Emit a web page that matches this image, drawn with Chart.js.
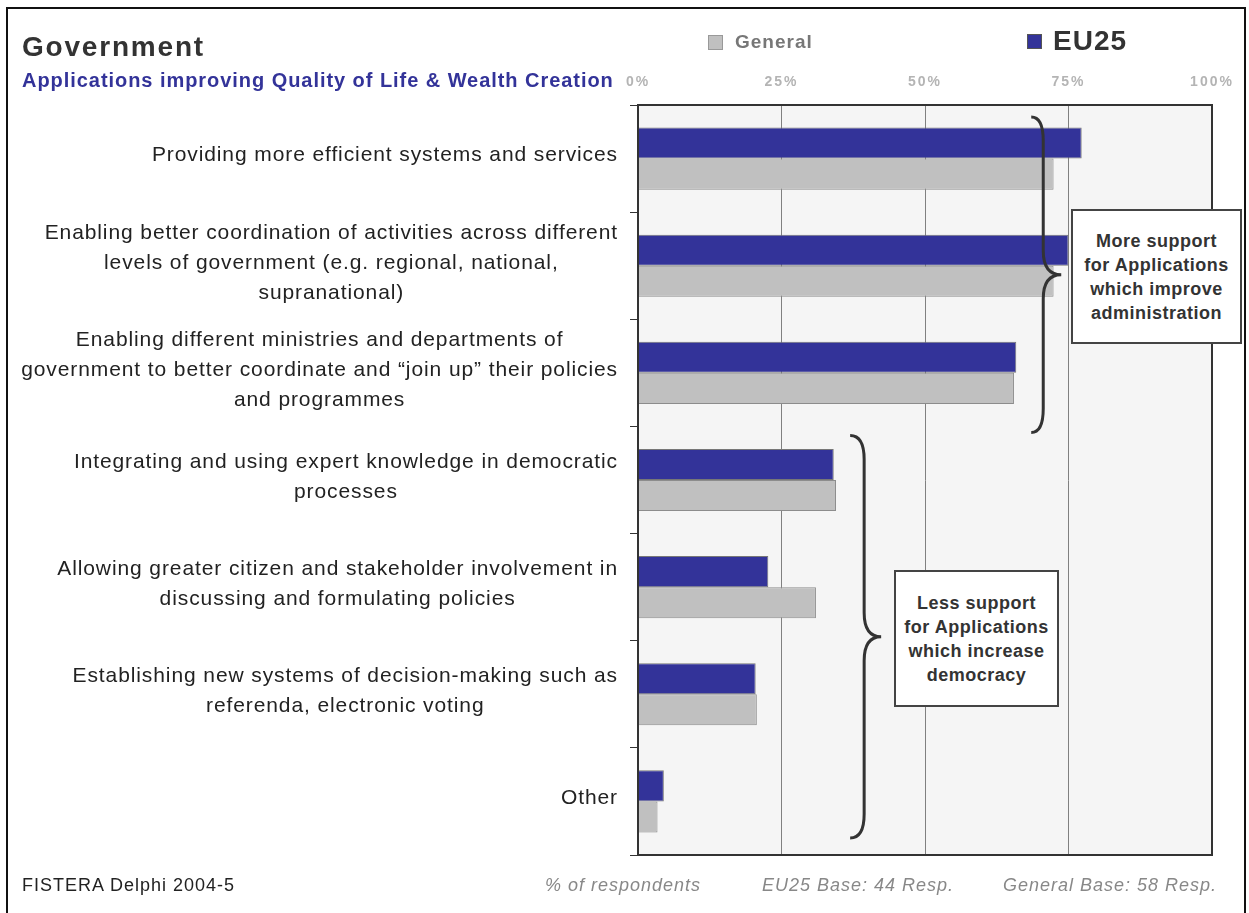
<!DOCTYPE html>
<html lang="en">
<head>
  <meta charset="UTF-8" />
  <title>Government - Applications improving Quality of Life &amp; Wealth Creation</title>
  <script src="https://cdn.jsdelivr.net/npm/chart.js"></script>
  <style>
    body { margin: 0; background: #fff; font-family: "Liberation Sans", Arial, sans-serif; }
    #wrap { position: relative; width: 1249px; height: 913px; overflow: hidden; }
    #chart { position: absolute; left: 0; top: 0; }
    #frame { position: absolute; left: 6px; top: 7px; width: 1240px; height: 930px; border: 2px solid #111; box-sizing: border-box; }
    .abs { position: absolute; white-space: nowrap; }
    #title { left: 22px; top: 31px; font-size: 28px; font-weight: bold; color: #333; letter-spacing: 1.8px; }
    #subtitle { left: 22px; top: 69px; font-size: 20px; font-weight: bold; color: #333399; letter-spacing: 0.95px; }
    .lg-box { position: absolute; box-sizing: border-box; }
    .note { position: absolute; box-sizing: border-box; background: #fff; border: 2px solid #444;
            font-weight: bold; font-size: 18px; letter-spacing: 0.5px; color: #333; text-align: center; line-height: 24px;
            display: flex; align-items: center; justify-content: center; }
    .foot { position: absolute; top: 875px; font-size: 18px; letter-spacing: 1px; white-space: nowrap; }
    .foot.meta { color: #888; font-style: italic; }
  </style>
</head>
<body>
<div id="wrap">
  <canvas id="chart" width="1249" height="913"></canvas>

  <div id="title" class="abs">Government</div>
  <div id="subtitle" class="abs">Applications improving Quality of Life &amp; Wealth Creation</div>

  <!-- legend -->
  <div class="lg-box" style="left:708px;top:35px;width:15px;height:15px;background:#c0c0c0;border:1px solid #999;"></div>
  <div class="abs" style="left:735px;top:31px;font-size:19px;letter-spacing:1px;font-weight:bold;color:#777;">General</div>
  <div class="lg-box" style="left:1027px;top:34px;width:15px;height:15px;background:#333399;border:1px solid #555;"></div>
  <div class="abs" style="left:1053px;top:25px;font-size:28px;letter-spacing:1px;font-weight:bold;color:#333;">EU25</div>

  <!-- notes -->
  <div class="note" style="left:1071px;top:209px;width:171px;height:135px;">More support<br>for Applications<br>which improve<br>administration</div>
  <div class="note" style="left:894px;top:570px;width:165px;height:137px;">Less support<br>for Applications<br>which increase<br>democracy</div>

  <!-- footer -->
  <div class="foot" style="left:22px;color:#222;">FISTERA Delphi 2004-5</div>
  <div class="foot meta" style="left:545px;">% of respondents</div>
  <div class="foot meta" style="left:762px;">EU25 Base: 44 Resp.</div>
  <div class="foot meta" style="left:1003px;">General Base: 58 Resp.</div>

  <div id="frame"></div>
</div>

<script>
  const categories = [
    ["Providing more efficient systems and services"],
    ["Enabling better coordination of activities across different", "levels of government (e.g. regional, national,", "supranational)"],
    ["Enabling different ministries and departments of", "government to better coordinate and \u201cjoin up\u201d their policies", "and programmes"],
    ["Integrating and using expert knowledge in democratic", "processes"],
    ["Allowing greater citizen and stakeholder involvement in", "discussing and formulating policies"],
    ["Establishing new systems of decision-making such as", "referenda, electronic voting"],
    ["Other"]
  ];
  const eu25Values = [77.3, 75.0, 65.9, 34.1, 22.7, 20.5, 4.5];
  const generalValues = [72.4, 72.4, 65.5, 34.5, 31.0, 20.7, 3.4];
  const xTickStep = 25;

  const FONT = '"Liberation Sans", Arial, sans-serif';

  // curly brace, opening to the left, tip pointing right
  const drawBrace = (ctx, x, y0, y1, wBack, wTip) => {
    const ym = (y0 + y1) / 2;
    const r = 24;
    ctx.beginPath();
    ctx.moveTo(x - wBack, y0);
    ctx.quadraticCurveTo(x, y0, x, y0 + r);
    ctx.lineTo(x, ym - r);
    ctx.quadraticCurveTo(x, ym, x + wTip, ym);
    ctx.quadraticCurveTo(x, ym, x, ym + r);
    ctx.lineTo(x, y1 - r);
    ctx.quadraticCurveTo(x, y1, x - wBack, y1);
    ctx.stroke();
  };

  const plotFrame = {
    id: 'plotFrame',
    beforeDraw(chart) {
      const { ctx, chartArea: a } = chart;
      ctx.save();
      ctx.fillStyle = '#f5f5f5';
      ctx.fillRect(a.left, a.top, a.right - a.left, a.bottom - a.top);
      ctx.restore();
      ctx.letterSpacing = '2px';   // spaced-out percent tick labels
    },
    beforeDatasetsDraw(chart) {
      chart.ctx.letterSpacing = '0px';
    },
    afterDatasetsDraw(chart) {
      const { ctx, chartArea: a, scales } = chart;
      const xs = scales.x, ys = scales.y;
      ctx.save();

      // plot border
      ctx.strokeStyle = '#333';
      ctx.lineWidth = 2;
      ctx.strokeRect(a.left, a.top, a.right - a.left, a.bottom - a.top);

      // category labels: block right-aligned, lines centred
      ctx.font = '21px ' + FONT;
      ctx.letterSpacing = '0.9px';
      ctx.fillStyle = '#222';
      ctx.textAlign = 'center';
      ctx.textBaseline = 'middle';
      const lineH = 30;
      chart.data.labels.forEach((lines, i) => {
        const maxW = Math.max(...lines.map(l => ctx.measureText(l).width));
        const cx = a.left - 20 - maxW / 2;
        const cy = ys.getPixelForValue(i) - 3;
        lines.forEach((l, k) => {
          ctx.fillText(l, cx, cy + (k - (lines.length - 1) / 2) * lineH);
        });
      });
      ctx.letterSpacing = '0px';

      // braces
      const band = (ys.bottom - ys.top) / chart.data.labels.length;
      ctx.strokeStyle = '#333';
      ctx.lineWidth = 3;
      drawBrace(ctx, xs.getPixelForValue(70.6), ys.top + 12, ys.top + 3 * band + 6, 12, 18);
      drawBrace(ctx, xs.getPixelForValue(39.4), ys.top + 3 * band + 9, ys.bottom - 17, 14, 17);

      ctx.restore();
    }
  };

  new Chart(document.getElementById('chart'), {
    type: 'bar',
    data: {
      labels: categories,
      datasets: [
        {
          label: 'EU25',
          data: eu25Values,
          backgroundColor: '#333399',
          borderColor: '#777',
          borderWidth: 1,
          barPercentage: 1,
          categoryPercentage: 0.58
        },
        {
          label: 'General',
          data: generalValues,
          backgroundColor: '#c0c0c0',
          borderColor: '#8c8c8c',
          borderWidth: 1,
          barPercentage: 1,
          categoryPercentage: 0.58
        }
      ]
    },
    options: {
      indexAxis: 'y',
      responsive: false,
      animation: false,
      layout: { padding: { top: 0, right: 37, bottom: 58, left: 0 } },
      plugins: {
        legend: { display: false },
        tooltip: { enabled: false }
      },
      scales: {
        x: {
          position: 'top',
          min: 0,
          max: 100,
          ticks: {
            stepSize: xTickStep,
            callback: v => v + '%',
            color: '#b4b4b4',
            font: { family: FONT, size: 14, weight: 'bold' },
            padding: 14
          },
          grid: { color: '#808080', lineWidth: 1, drawTicks: false },
          border: { display: true, color: '#333', width: 2 },
          afterFit: s => { s.height = 105; }
        },
        y: {
          ticks: { display: false },
          grid: { drawOnChartArea: false, drawTicks: true, tickLength: 8, color: '#333', offset: true },
          border: { color: '#333', width: 2 },
          afterFit: s => { s.width = 638; }
        }
      }
    },
    plugins: [plotFrame]
  });
</script>
</body>
</html>
